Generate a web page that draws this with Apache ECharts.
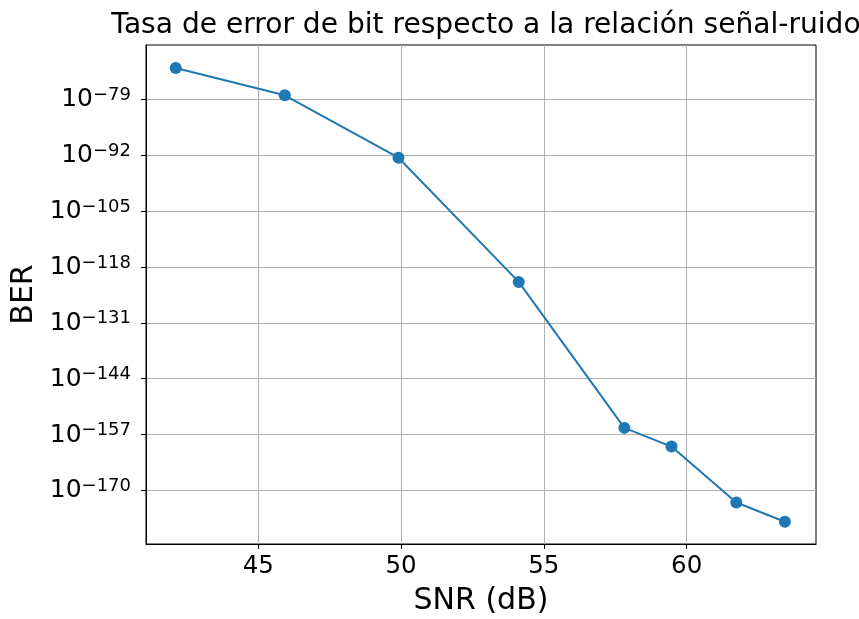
<!DOCTYPE html>
<html>
<head>
<meta charset="utf-8">
<script src="https://cdn.jsdelivr.net/npm/echarts@6/dist/echarts.min.js"></script>
<style>
  html, body { margin: 0; padding: 0; background: #fff; }
  #main { width: 859px; height: 619px; }
</style>
</head>
<body>
<div id="main"></div>
<script>
// SNR en dB y exponente de la BER (log10)
var snrDb = [42.11, 45.93, 49.91, 54.12, 57.82, 59.47, 61.74, 63.44];
var berLog10 = [-71.73, -78.07, -92.6, -121.49, -155.44, -159.79, -172.79, -177.27];
var xTicks = [45, 50, 55, 60];
var yTicks = [-79, -92, -105, -118, -131, -144, -157, -170];

var puntos = snrDb.map(function (x, i) { return [x, berLog10[i]]; });
var fuente = 'DejaVu Sans';

var myChart = echarts.init(document.getElementById('main'));
myChart.setOption({
    animation: false,
    backgroundColor: '#fff',
    title: {
        text: 'Tasa de error de bit respecto a la relación señal-ruido',
        left: 481,
        textAlign: 'center',
        top: 7,
        textStyle: { fontFamily: fuente, fontSize: 28.1, fontWeight: 'normal', color: '#000' }
    },
    grid: {
        left: 146, right: 43, top: 45, bottom: 75,
        outerBoundsMode: 'none',
        containLabel: false,
        show: true, borderColor: '#000', borderWidth: 1
    },
    xAxis: {
        type: 'value',
        min: 41.07,
        max: 64.53,
        name: 'SNR (dB)',
        nameLocation: 'middle',
        nameGap: 42,
        nameTextStyle: { fontFamily: fuente, fontSize: 30, color: '#000' },
        axisLine: { show: true, lineStyle: { color: '#000', width: 1 } },
        axisTick: { show: true, length: 5, customValues: xTicks, lineStyle: { color: '#000' } },
        axisLabel: { customValues: xTicks, margin: 10, fontFamily: fuente, fontSize: 24.5, color: '#000' },
        splitLine: { show: true, lineStyle: { color: '#b0b0b0', width: 1 } }
    },
    yAxis: {
        type: 'value',
        min: -182.45,
        max: -66.38,
        name: 'BER',
        nameLocation: 'middle',
        nameGap: 107,
        nameTextStyle: { fontFamily: fuente, fontSize: 30, color: '#000' },
        axisLine: { show: true, lineStyle: { color: '#000', width: 1 } },
        axisTick: { show: true, length: 5, customValues: yTicks, lineStyle: { color: '#000' } },
        axisLabel: {
            customValues: yTicks,
            margin: 15,
            fontFamily: fuente,
            color: '#000',
            formatter: function (v) {
                return '{b|10}{s|\u2212' + Math.abs(Math.round(v)) + '}';
            },
            rich: {
                b: { fontFamily: fuente, fontSize: 25, lineHeight: 26, padding: [6, 0, 0, 0], verticalAlign: 'bottom', color: '#000' },
                s: { fontFamily: fuente, fontSize: 18, lineHeight: 25, verticalAlign: 'top', color: '#000' }
            }
        },
        splitLine: { show: true, lineStyle: { color: '#b0b0b0', width: 1 } }
    },
    series: [
        {
            type: 'line',
            data: puntos,
            symbol: 'circle',
            symbolSize: 12,
            lineStyle: { color: '#1f77b4', width: 2 },
            itemStyle: { color: '#1f77b4' }
        }
    ]
});
</script>
</body>
</html>
